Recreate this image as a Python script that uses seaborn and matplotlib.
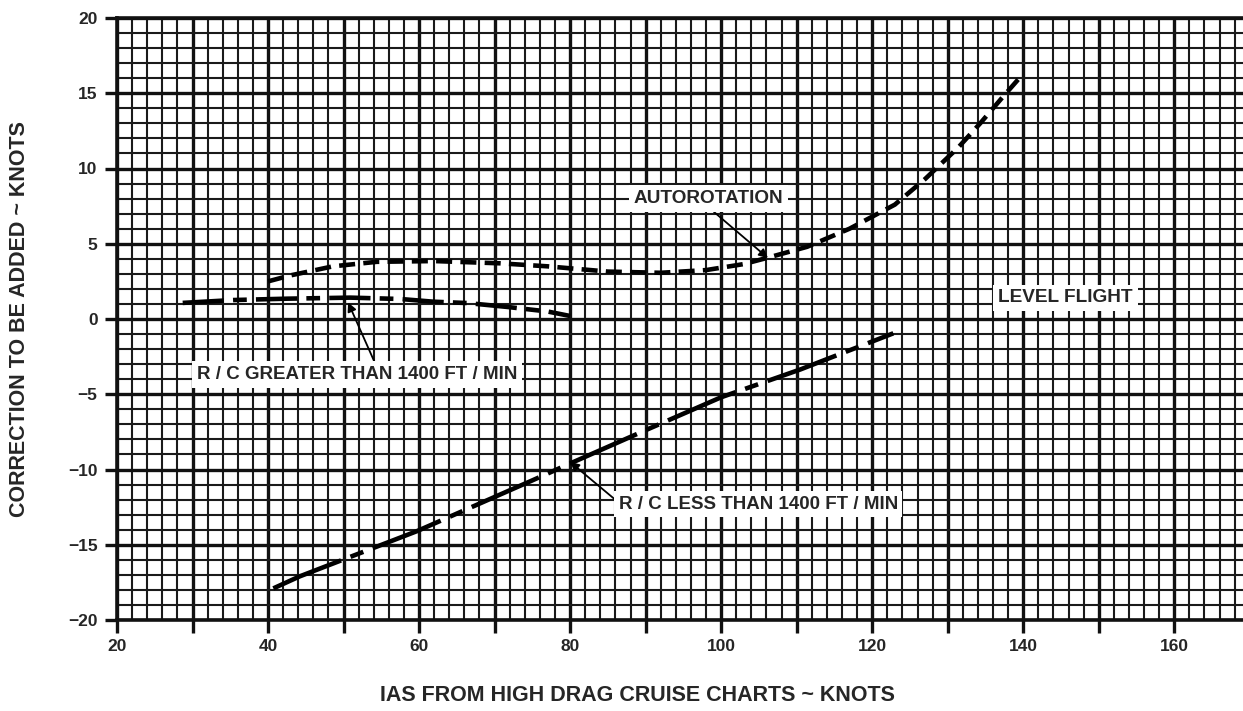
import matplotlib
matplotlib.use('Agg')
import matplotlib.pyplot as plt
from matplotlib.ticker import MultipleLocator, FuncFormatter
import pandas as pd
import seaborn as sns

# Curve values
auto_x = [40, 43, 48.6, 54.4, 62, 70.7, 77, 85, 92, 98, 103, 106, 111.4, 117, 123, 127, 131.4, 134.3, 137.2, 140]
auto_y = [2.5, 2.9, 3.5, 3.8, 3.85, 3.7, 3.5, 3.15, 3.07, 3.25, 3.65, 4.05, 4.8, 6.0, 7.6, 9.3, 11.4, 13.0, 14.7, 16.3]

greater_x = [28.7, 35.4, 42.5, 50.9, 57.5, 61.9, 66.4, 71.7, 77, 80]
greater_y = [1.07, 1.26, 1.35, 1.42, 1.33, 1.15, 1.06, 0.8, 0.5, 0.2]

less_x = [40.7, 44.2, 59.7, 75.1, 80, 90.4, 100, 110.5, 122.8]
less_y = [-17.9, -17.1, -14.1, -10.7, -9.6, -7.3, -5.2, -3.35, -0.95]

x_ticks = [20, 30, 40, 50, 60, 70, 80, 90, 100, 110, 120, 130, 140, 150, 160]
y_ticks = [-20, -15, -10, -5, 0, 5, 10, 15, 20]

auto_df = pd.DataFrame({'ias': auto_x, 'corr': auto_y})
greater_df = pd.DataFrame({'ias': greater_x, 'corr': greater_y})
less_df = pd.DataFrame({'ias': less_x, 'corr': less_y})

sns.set_style('white')
plt.rcParams['font.family'] = ['Liberation Sans', 'DejaVu Sans']
plt.rcParams['font.weight'] = 'bold'

fig = plt.figure(figsize=(12.43, 7.11), dpi=100)
ax = fig.add_axes([117 / 1243, 1 - 620 / 711, 1 - 117 / 1243, 602 / 711])

# Grid paper
ax.xaxis.set_major_locator(MultipleLocator(10))
ax.xaxis.set_minor_locator(MultipleLocator(2))
ax.yaxis.set_major_locator(MultipleLocator(5))
ax.yaxis.set_minor_locator(MultipleLocator(1))
ax.grid(which='major', color='#111111', linewidth=2.4)
ax.grid(which='minor', color='#1a1a1a', linewidth=1.5)
ax.set_axisbelow(True)

# Curves
sns.lineplot(data=auto_df, x='ias', y='corr', ax=ax, color='black', linewidth=3.3, zorder=5)
ax.lines[-1].set_dashes((3.5, 1.8))
sns.lineplot(data=greater_df, x='ias', y='corr', ax=ax, color='black', linewidth=3.3, zorder=5)
ax.lines[-1].set_dashes((9, 2, 3, 2))
sns.lineplot(data=less_df, x='ias', y='corr', ax=ax, color='black', linewidth=3.3, zorder=5)
ax.lines[-1].set_dashes((16, 2.2, 3, 2.2))

ax.set_xlim(20, 169.1)
ax.set_ylim(-20, 20)
ax.set_xticks(x_ticks)
ax.set_yticks(y_ticks)
ax.xaxis.set_major_formatter(FuncFormatter(lambda v, p: f'{v:.0f}' if v % 20 == 0 else ''))
ax.tick_params(which='major', direction='out', length=9, width=2.4, color='#111111',
               labelsize=12.5, pad=5, bottom=True, left=True)
ax.tick_params(which='minor', length=0)
for lab in ax.get_xticklabels() + ax.get_yticklabels():
    lab.set_fontweight('bold')

for side in ['left', 'bottom', 'top']:
    ax.spines[side].set_linewidth(2.6)
    ax.spines[side].set_color('#111111')
ax.spines['right'].set_visible(False)

ax.set_xlabel('IAS FROM HIGH DRAG CRUISE CHARTS ~ KNOTS', fontsize=15.5, fontweight='bold')
ax.xaxis.set_label_coords(0.462, -0.108)
ax.set_ylabel('CORRECTION TO BE ADDED ~ KNOTS', fontsize=15.5, fontweight='bold', va='center')
ax.yaxis.set_label_coords(-0.087, 0.5)

# Annotations
box = dict(boxstyle='square,pad=0.25', facecolor='white', edgecolor='none')
arrow = dict(arrowstyle='-|>', color='black', lw=1.3, mutation_scale=13, shrinkA=0, shrinkB=0)
ax.annotate('AUTOROTATION', xy=(106.2, 4.05), xytext=(98.3, 8.0), fontsize=13.7, fontweight='bold',
            ha='center', va='center', bbox=box, arrowprops=dict(arrow, relpos=(0.5, 0.0)), zorder=6)
ax.text(145.6, 1.4, 'LEVEL FLIGHT', fontsize=13.7, fontweight='bold', ha='center', va='center',
        bbox=box, zorder=6)
ax.annotate('R / C GREATER THAN 1400 FT / MIN', xy=(50.6, 1.1), xytext=(51.8, -3.7), fontsize=13.5,
            fontweight='bold', ha='center', va='center', bbox=box,
            arrowprops=dict(arrow, relpos=(0.56, 1.0)), zorder=6)
ax.annotate('R / C LESS THAN 1400 FT / MIN', xy=(80, -9.5), xytext=(104.9, -12.3), fontsize=13.5,
            fontweight='bold', ha='center', va='center', bbox=box,
            arrowprops=dict(arrow, relpos=(0.0, 0.6)), zorder=6)

fig.savefig('out.png', dpi=100)
